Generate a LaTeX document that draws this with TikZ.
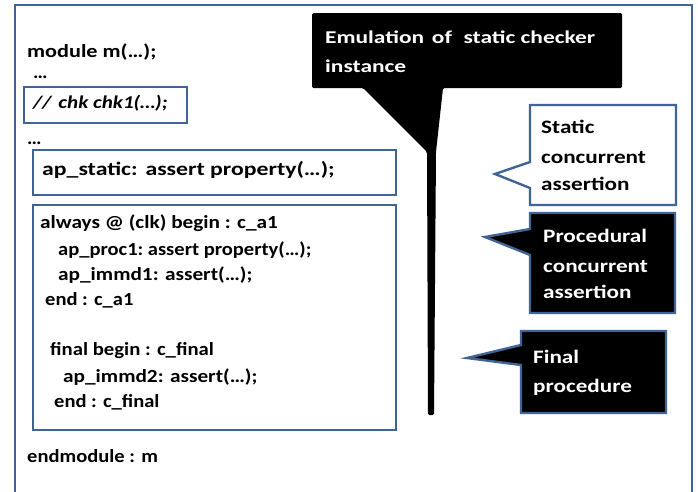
\documentclass[tikz,border=0pt]{standalone}
\usepackage{graphicx}
\usepackage{fontspec}
\setmainfont{Carlito}
\definecolor{frameblue}{RGB}{66,100,148}
% horizontally widened text
\newcommand\widetext[2]{\scalebox{#1}[1]{#2}}
\begin{document}
\begin{tikzpicture}[x=1pt,y=-1pt,
  frame/.style={draw=frameblue,line width=2.6pt},
  code/.style={anchor=base west,inner sep=0pt,font=\bfseries\fontsize{18.5}{20}\selectfont},
  note/.style={anchor=base west,inner sep=0pt,font=\bfseries\fontsize{19}{22}\selectfont},
  darknote/.style={note,text=white},
  callout/.style={line width=2.4pt,draw=frameblue,line join=miter}]
\useasboundingbox (0,0) rectangle (698,491);
\clip (0,0) rectangle (698,491);
\fill[white] (0,0) rectangle (698,491);

% outer module frame (bottom edge runs off the page)
\draw[frame] (15,500) -- (15,5) -- (692,5) -- (692,500);

% module header
\node[code,font=\bfseries\fontsize{18.5}{20}\selectfont] (mod) at (27,57) {\widetext{1.2}{module m(…);}};
\node[code] (dots1) at (33,78) {\widetext{1.1}{…}};
\draw[frame] (24,87) rectangle (187,123);
\node[code,font=\bfseries\itshape\fontsize{18}{20}\selectfont] (chk) at (33,108) {\widetext{1.17}{//\,\,chk chk1(…);}};
\node[code] (dots2) at (27,144) {\widetext{1.1}{…}};

% static assertion
\draw[frame] (33,150) rectangle (396,195);
\node[code,font=\bfseries\fontsize{19}{21}\selectfont] (stat) at (42,175) {\widetext{1.25}{ap\_static:\,\,assert property(…);}};

% procedural block
\draw[frame] (33,205) rectangle (396,430);
\node[code] (l1) at (40,228) {\widetext{1.15}{always @ (clk) begin : c\_a1}};
\node[code] (l2) at (58,255) {\widetext{1.11}{ap\_proc1:\hspace{-1.5pt} assert property(…);}};
\node[code] (l3) at (58,280) {\widetext{1.15}{ap\_immd1: assert(…);}};
\node[code] (l4) at (45,305) {\widetext{1.11}{end : c\_a1}};
\node[code] (l5) at (50,355) {\widetext{1.12}{final begin : c\_final}};
\node[code] (l6) at (63,382) {\widetext{1.15}{ap\_immd2: assert(…);}};
\node[code] (l7) at (54,407) {\widetext{1.11}{end : c\_final}};

\node[code] (endm) at (27,462) {\widetext{1.11}{endmodule : m}};

% checker emulation callout with long pointer
\fill[black,rounded corners=1.5pt] (312,13) -- (622,13) -- (622,88) -- (443,88)
  -- (436,152) -- (434,415) -- (428,415) -- (427,152) -- (363,88) -- (312,88) -- cycle;
\node[darknote,font=\bfseries\fontsize{18}{21}\selectfont] (emu1) at (325,43) {\widetext{1.3}{Emulation\,\,of\,\,\,static checker}};
\node[darknote,font=\bfseries\fontsize{18}{21}\selectfont] (emu2) at (325,72) {\widetext{1.3}{instance}};

% static concurrent assertion callout
\draw[callout,fill=white] (530,105) -- (676,105) -- (676,205) -- (530,205)
  -- (530,188) -- (495,174) -- (530,162) -- cycle;
\node[note] (s1) at (541,133) {\widetext{1.22}{Static}};
\node[note] (s2) at (541,163) {\widetext{1.22}{concurrent}};
\node[note] (s3) at (541,190) {\widetext{1.22}{assertion}};

% procedural concurrent assertion callout
\draw[callout,fill=black] (530,213) -- (675,213) -- (675,313) -- (530,313)
  -- (530,255) -- (485,237) -- (530,229) -- cycle;
\node[darknote] (p1) at (543,242) {\widetext{1.22}{Procedural}};
\node[darknote] (p2) at (543,272) {\widetext{1.22}{concurrent}};
\node[darknote] (p3) at (543,298) {\widetext{1.22}{assertion}};

% final procedure callout
\draw[callout,fill=black] (521,331) -- (666,331) -- (666,413) -- (521,413)
  -- (521,365) -- (467,358) -- (521,345) -- cycle;
\node[darknote] (f1) at (533,363) {\widetext{1.22}{Final}};
\node[darknote] (f2) at (533,392) {\widetext{1.22}{procedure}};
\end{tikzpicture}
\end{document}
